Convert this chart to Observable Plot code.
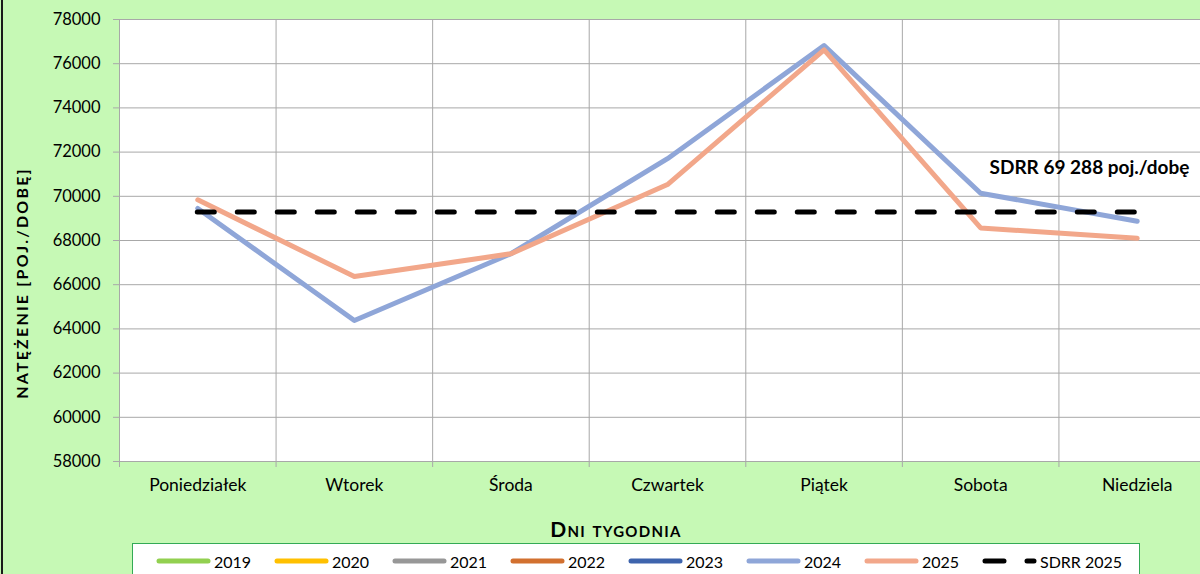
<!DOCTYPE html>
<html>
<head>
<meta charset="utf-8">
<script src="https://cdn.jsdelivr.net/npm/d3@7"></script>
<script src="https://cdn.jsdelivr.net/npm/@observablehq/plot@0.6"></script>
<style>
  html, body { margin: 0; padding: 0; }
  #wrap { position: relative; width: 1200px; height: 574px; background: #c6f9b5; overflow: hidden; font-family: Lato, "DejaVu Sans", sans-serif; }
  #border { position: absolute; left: 1px; top: 0; width: 2px; height: 574px; background: #1a1a1a; }
  #chart { position: absolute; left: 0; top: 0; }
  #ytitle { position: absolute; left: 21px; top: 283px; transform: translate(-50%, -50%) rotate(-90deg); white-space: nowrap; font-weight: 700; font-size: 16px; letter-spacing: 2.2px; color: #000; }
  #xtitle { position: absolute; left: 616px; top: 528px; transform: translate(-50%, -50%); white-space: nowrap; font-weight: 700; font-size: 21px; font-variant: small-caps; letter-spacing: 1.3px; color: #000; }
  #legend { position: absolute; left: 132px; top: 543px; width: 1008px; height: 50px; background: #fff; border: 1.5px solid #33aa55; box-sizing: border-box; }
  #legend .item { position: absolute; top: 7px; height: 20px; display: flex; align-items: center; font-size: 16px; color: #000; }
  #legend svg { margin-right: 3px; }
</style>
</head>
<body>
<div id="wrap">
  <div id="chart"></div>
  <div id="border"></div>
  <div id="ytitle"></div>
  <div id="xtitle"></div>
  <div id="legend"></div>
</div>
<script>
// ---- data ----
const days = ["Poniedziałek", "Wtorek", "Środa", "Czwartek", "Piątek", "Sobota", "Niedziela"];
const values2024 = [69450, 64380, 67400, 71700, 76820, 70140, 68870];
const values2025 = [69840, 66370, 67400, 70530, 76630, 68570, 68100];
const sdrr2025 = 69288;
const yTicks = [58000, 60000, 62000, 64000, 66000, 68000, 70000, 72000, 74000, 76000, 78000];
const seriesNames = ["2019", "2020", "2021", "2022", "2023", "2024", "2025", "SDRR 2025"];
const seriesColors = ["#92d050", "#ffc000", "#979797", "#d2702f", "#3e64ad", "#8fa6d8", "#f2a78a", "#000000"];
const yTitle = "NATĘŻENIE [POJ./DOBĘ]";
const xTitle = "Dni tygodnia";
const annotation = "SDRR 69 288 poj./dobę";

// ---- build tables ----
const rows = [];
days.forEach((d, i) => {
  rows.push({ series: "2024", idx: i + 0.5, day: d, value: values2024[i] });
  rows.push({ series: "2025", idx: i + 0.5, day: d, value: values2025[i] });
});
const colorOf = Object.fromEntries(seriesNames.map((s, i) => [s, seriesColors[i]]));
const bounds = d3.range(0, days.length + 1);
const centers = days.map((d, i) => i + 0.5);
const gridColor = "#a8a8a8";

const chart = Plot.plot({
  width: 1216,
  height: 500,
  marginLeft: 119,
  marginRight: 1,
  marginTop: 19,
  marginBottom: 39,
  style: { background: "transparent", fontFamily: "Lato, 'DejaVu Sans', sans-serif", fontSize: "16px", color: "#000", maxWidth: "none", overflow: "visible" },
  x: { type: "linear", domain: [0, days.length] },
  y: { domain: [yTicks[0], yTicks[yTicks.length - 1]] },
  marks: [
    Plot.frame({ fill: "white", stroke: null }),
    Plot.gridY(yTicks, { stroke: gridColor, strokeOpacity: 1, strokeWidth: 1 }),
    Plot.gridX(bounds, { stroke: gridColor, strokeOpacity: 1, strokeWidth: 1 }),
    Plot.axisY(yTicks, { tickSize: 6, tickPadding: 13, stroke: gridColor, strokeOpacity: 1, tickFormat: d => String(d), label: null, fill: "#000", fontSize: 16.5 }),
    Plot.axisX(bounds, { tickSize: 6, stroke: gridColor, strokeOpacity: 1, tickFormat: () => "", label: null }),
    Plot.axisX(centers, { tickSize: 0, tickPadding: 17, tickFormat: v => days[Math.round(v - 0.5)], label: null, fill: "#000", fontSize: 17.5 }),
    Plot.line(rows.filter(r => r.series === "2024"), { x: "idx", y: "value", stroke: colorOf["2024"], strokeWidth: 5, strokeLinejoin: "round" }),
    Plot.line(rows.filter(r => r.series === "2025"), { x: "idx", y: "value", stroke: colorOf["2025"], strokeWidth: 5, strokeLinejoin: "round" }),
    Plot.ruleY([sdrr2025], { x1: centers[0], x2: centers[centers.length - 1], stroke: "#000", strokeWidth: 5, strokeDasharray: "17,23", strokeLinecap: "round" }),
    Plot.text([annotation], { x: () => 6.195, y: () => 71300, text: d => d, fontWeight: 700, fontSize: 19, fill: "#000", textAnchor: "middle" })
  ]
});
document.getElementById("chart").appendChild(chart);
document.getElementById("ytitle").textContent = yTitle;
document.getElementById("xtitle").textContent = xTitle;

// ---- legend ----
const legend = document.getElementById("legend");
seriesNames.forEach((name, i) => {
  const item = document.createElement("div");
  item.className = "item";
  item.style.left = (23 + i * 118) + "px";
  const ns = "http://www.w3.org/2000/svg";
  const svg = document.createElementNS(ns, "svg");
  svg.setAttribute("width", "55");
  svg.setAttribute("height", "10");
  const ln = document.createElementNS(ns, "line");
  ln.setAttribute("x1", "3"); ln.setAttribute("x2", "52");
  ln.setAttribute("y1", "5"); ln.setAttribute("y2", "5");
  ln.setAttribute("stroke", colorOf[name]);
  ln.setAttribute("stroke-width", "5");
  ln.setAttribute("stroke-linecap", "round");
  if (name.startsWith("SDRR")) ln.setAttribute("stroke-dasharray", "19,23");
  svg.appendChild(ln);
  item.appendChild(svg);
  const t = document.createElement("span");
  t.textContent = name;
  item.appendChild(t);
  legend.appendChild(item);
});
</script>
</body>
</html>
